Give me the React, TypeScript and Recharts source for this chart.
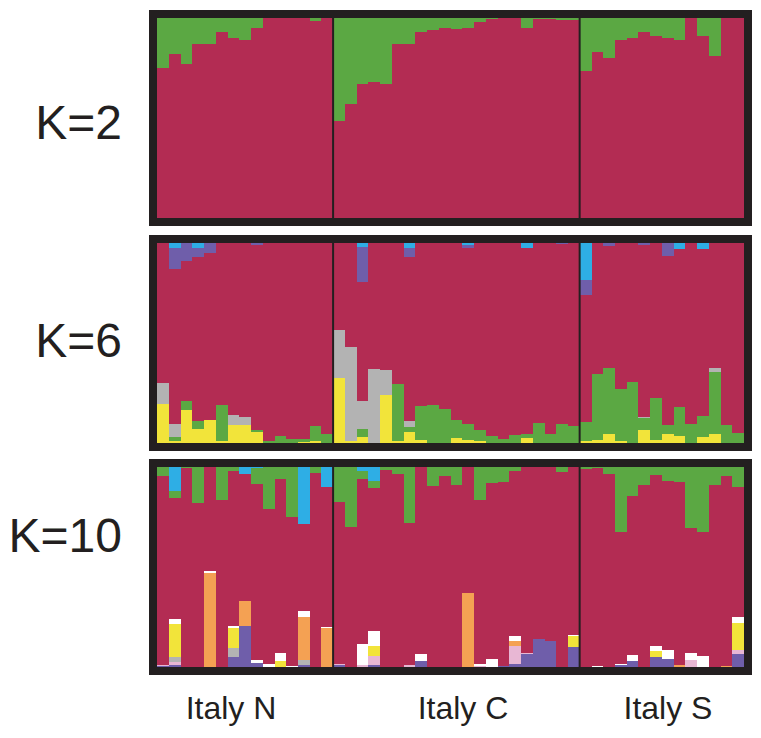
import React from 'react';
import { BarChart, Bar, XAxis, YAxis, ReferenceLine } from 'recharts';

// ---- categories ----
const groupNames = ['Italy N', 'Italy C', 'Italy S'];
const groupSizes = [15, 21, 14];
const panelLabels = ['K=2', 'K=6', 'K=10'];

// ---- K=2 (membership of the green cluster; red is the remainder) ----
const k2Green = [
  0.25, 0.18, 0.23, 0.13, 0.13, 0.07, 0.10, 0.11, 0.05, 0, 0, 0, 0, 0.015, 0,
  0.515, 0.43, 0.33, 0.32, 0.33, 0.13, 0.13, 0.07, 0.06, 0.05, 0.055, 0.05, 0.02, 0.005, 0, 0, 0.05, 0.005, 0.005, 0.01, 0.01,
  0.265, 0.17, 0.2, 0.11, 0.1, 0.07, 0.09, 0.10, 0.11, 0, 0.09, 0.19, 0, 0,
];

// ---- K=6 ----
const k6Yellow = [
  0.197, 0.01, 0.163, 0.072, 0.113, 0.01, 0.088, 0.088, 0.055, 0, 0, 0, 0.005, 0.01, 0,
  0.325, 0.01, 0.03, 0, 0.242, 0.01, 0.055, 0.013, 0, 0, 0.027, 0.017, 0.008, 0, 0, 0, 0.027, 0, 0, 0, 0,
  0.01, 0.017, 0.043, 0.01, 0, 0.063, 0.017, 0.043, 0.033, 0, 0.03, 0.043, 0, 0,
];
const k6Green = [
  0, 0.02, 0.045, 0.037, 0, 0.18, 0, 0, 0.012, 0.01, 0.033, 0.02, 0.015, 0.075, 0.043,
  0, 0, 0.042, 0, 0, 0.287, 0.025, 0.17, 0.19, 0.168, 0.087, 0.077, 0.055, 0.033, 0.022, 0.04, 0.017, 0.1, 0.047, 0.093, 0.083,
  0.095, 0.327, 0.332, 0.258, 0.305, 0.063, 0.21, 0.045, 0.147, 0.093, 0.103, 0.312, 0.088, 0.05,
];
const k6Grey = [
  0.103, 0.067, 0, 0, 0, 0, 0.05, 0.042, 0, 0, 0, 0, 0, 0, 0,
  0.242, 0.47, 0.138, 0.368, 0.122, 0, 0.028, 0, 0, 0, 0, 0, 0, 0, 0, 0, 0, 0, 0, 0, 0,
  0, 0, 0, 0, 0, 0.004, 0, 0, 0, 0, 0, 0.02, 0, 0,
];
const k6Purple = [
  0, 0.105, 0.09, 0.047, 0.05, 0, 0, 0, 0.008, 0, 0, 0, 0, 0, 0,
  0, 0, 0.175, 0, 0, 0, 0.047, 0, 0, 0, 0, 0.015, 0, 0, 0, 0, 0, 0, 0, 0.006, 0,
  0.072, 0, 0.015, 0, 0, 0.008, 0, 0.065, 0, 0, 0, 0, 0, 0,
];
const k6Blue = [
  0, 0.023, 0, 0.023, 0, 0, 0, 0, 0, 0, 0, 0, 0, 0, 0,
  0, 0, 0.02, 0, 0, 0, 0.023, 0, 0, 0, 0, 0.008, 0, 0, 0, 0, 0.023, 0, 0, 0, 0,
  0.187, 0, 0, 0, 0, 0, 0, 0, 0.028, 0, 0.028, 0, 0, 0,
];

// ---- K=10 ----
const k10Blue = [
  0, 0.118, 0, 0, 0, 0, 0, 0.035, 0.005, 0, 0, 0, 0.285, 0, 0.1,
  0, 0, 0.018, 0.068, 0, 0, 0, 0, 0, 0, 0, 0, 0, 0, 0, 0, 0, 0, 0, 0, 0,
  0, 0, 0, 0, 0, 0, 0, 0, 0, 0, 0, 0, 0, 0,
];
const k10Green = [
  0.047, 0.038, 0.005, 0.18, 0, 0.163, 0.018, 0, 0.08, 0.21, 0.06, 0.25, 0, 0.03, 0,
  0.173, 0.3, 0.04, 0.038, 0.013, 0.035, 0.28, 0, 0.093, 0.043, 0.088, 0, 0.165, 0.08, 0.077, 0.018, 0, 0, 0, 0.027, 0,
  0.01, 0.007, 0.035, 0.323, 0.143, 0.088, 0.038, 0.072, 0.077, 0.305, 0.326, 0.088, 0.047, 0.1,
];
const k10Purple = [
  0.005, 0.008, 0, 0, 0, 0, 0.05, 0.205, 0.02, 0, 0, 0, 0.008, 0, 0,
  0.008, 0, 0, 0.008, 0, 0, 0, 0.03, 0, 0, 0, 0, 0, 0, 0.005, 0.017, 0.067, 0.138, 0.128, 0, 0.1,
  0, 0, 0, 0.008, 0.03, 0, 0.052, 0.042, 0, 0, 0, 0, 0, 0.063,
];
const k10Pink = [
  0.005, 0.017, 0, 0, 0, 0, 0, 0, 0, 0, 0, 0, 0, 0, 0,
  0.006, 0, 0.008, 0.045, 0, 0, 0.012, 0, 0, 0, 0, 0, 0.005, 0, 0, 0.087, 0.005, 0, 0, 0, 0,
  0, 0, 0, 0, 0, 0, 0, 0, 0, 0.033, 0, 0, 0, 0.02,
];
const k10Grey = [
  0, 0.025, 0, 0, 0, 0, 0.047, 0, 0, 0, 0, 0, 0.025, 0, 0,
  0, 0, 0, 0, 0, 0, 0, 0, 0, 0, 0, 0, 0, 0, 0, 0, 0, 0, 0, 0, 0,
  0, 0, 0, 0, 0, 0, 0, 0, 0, 0, 0, 0, 0, 0,
];
const k10Yellow = [
  0, 0.166, 0, 0, 0, 0, 0.1, 0, 0, 0, 0.03, 0, 0, 0, 0,
  0, 0, 0, 0.05, 0, 0, 0, 0, 0, 0, 0, 0, 0, 0, 0, 0, 0, 0, 0, 0, 0.053,
  0, 0, 0, 0, 0, 0, 0.028, 0, 0, 0, 0, 0, 0, 0.136,
];
const k10Orange = [
  0, 0, 0, 0, 0.47, 0, 0, 0.125, 0, 0, 0, 0, 0.216, 0, 0.195,
  0, 0, 0, 0, 0, 0, 0, 0, 0, 0, 0, 0.37, 0, 0, 0, 0.027, 0, 0, 0, 0, 0,
  0, 0, 0, 0, 0, 0, 0, 0, 0.01, 0, 0, 0, 0.004, 0,
];
const k10White = [
  0, 0.022, 0, 0, 0.008, 0, 0.008, 0, 0.013, 0.013, 0.04, 0.006, 0.033, 0, 0.005,
  0, 0, 0.105, 0.075, 0, 0, 0, 0.033, 0, 0, 0, 0, 0.01, 0.038, 0, 0.025, 0, 0, 0, 0, 0.008,
  0, 0.007, 0, 0.008, 0.03, 0, 0.025, 0.042, 0, 0.035, 0.057, 0, 0, 0.033,
];

// ---- colours ----
const C = {
  red: '#B32C53',
  green: '#5BA843',
  blue: '#2EAEE5',
  purple: '#6F5EAA',
  grey: '#B3B3B3',
  yellow: '#F2E43A',
  orange: '#F4A153',
  pink: '#E8B7D4',
  white: '#FFFFFF',
  frame: '#231F20',
};

const individuals: { id: string; group: string }[] = [];
groupNames.forEach((g, gi) => {
  for (let i = 0; i < groupSizes[gi]; i++) individuals.push({ id: `${g}-${i + 1}`, group: g });
});
const boundaryIds = [individuals[groupSizes[0]].id, individuals[groupSizes[0] + groupSizes[1]].id];

type Layer = { key: string; values: number[] | null; color: string };

function buildData(layers: Layer[]) {
  return individuals.map((ind, i) => {
    const row: Record<string, any> = { id: ind.id };
    let sum = 0;
    layers.forEach((l) => {
      if (l.values) {
        row[l.key] = l.values[i];
        sum += l.values[i];
      }
    });
    row.red = Math.max(0, 1 - sum);
    return row;
  });
}

const panels: Layer[][] = [
  [
    { key: 'red', values: null, color: C.red },
    { key: 'green', values: k2Green, color: C.green },
  ],
  [
    { key: 'yellow', values: k6Yellow, color: C.yellow },
    { key: 'green', values: k6Green, color: C.green },
    { key: 'grey', values: k6Grey, color: C.grey },
    { key: 'red', values: null, color: C.red },
    { key: 'purple', values: k6Purple, color: C.purple },
    { key: 'blue', values: k6Blue, color: C.blue },
  ],
  [
    { key: 'purple', values: k10Purple, color: C.purple },
    { key: 'pink', values: k10Pink, color: C.pink },
    { key: 'grey', values: k10Grey, color: C.grey },
    { key: 'yellow', values: k10Yellow, color: C.yellow },
    { key: 'orange', values: k10Orange, color: C.orange },
    { key: 'white', values: k10White, color: C.white },
    { key: 'red', values: null, color: C.red },
    { key: 'green', values: k10Green, color: C.green },
    { key: 'blue', values: k10Blue, color: C.blue },
  ],
];

const panelTops = [2, 227, 451];
const INNER_W = 587;
const INNER_H = 200;
const BORDER = 8;
const BAND = INNER_W / individuals.length;
const font = '"Liberation Sans", Arial, Helvetica, sans-serif';

// Fill the full category band so adjacent individuals touch without seams.
function BandRect(props: any) {
  const { x, y, width, height, fill } = props;
  if (!height || height <= 0) return null;
  const cx = x + width / 2;
  return (
    <rect
      x={cx - BAND / 2}
      y={y}
      width={BAND}
      height={height}
      fill={fill}
      shapeRendering="crispEdges"
    />
  );
}

function Panel({ layers, top }: { layers: Layer[]; top: number }) {
  const data = buildData(layers);
  return (
    <div
      style={{
        position: 'absolute',
        left: 141,
        top,
        width: INNER_W,
        height: INNER_H,
        border: `${BORDER}px solid ${C.frame}`,
        background: C.red,
      }}
    >
      <BarChart
        width={INNER_W}
        height={INNER_H}
        data={data}
        margin={{ top: 0, right: 0, bottom: 0, left: 0 }}
        barCategoryGap={0}
        barGap={0}
      >
        <XAxis dataKey="id" type="category" hide />
        <YAxis type="number" domain={[0, 1]} hide allowDataOverflow />
        {layers.map((l) => (
          <Bar
            key={l.key}
            dataKey={l.key}
            stackId="s"
            fill={l.color}
            shape={BandRect}
            isAnimationActive={false}
          />
        ))}
        {boundaryIds.map((b) => (
          <ReferenceLine key={b} x={b} position="start" stroke={C.frame} strokeWidth={2} ifOverflow="visible" />
        ))}
      </BarChart>
    </div>
  );
}

export default function App() {
  const kBaselines = [131, 349, 544];
  const groupLabelX = [223, 455, 660];
  return (
    <div style={{ position: 'relative', width: 745, height: 730, background: '#fff' }}>
      {panels.map((layers, i) => (
        <Panel key={i} layers={layers} top={panelTops[i]} />
      ))}
      <svg
        width={745}
        height={730}
        style={{ position: 'absolute', left: 0, top: 0, pointerEvents: 'none' }}
      >
        {panelLabels.map((t, i) => (
          <text key={t} x={114} y={kBaselines[i]} textAnchor="end" fontFamily={font} fontSize={48} fill={C.frame}>
            {t}
          </text>
        ))}
        {groupNames.map((g, i) => (
          <text key={g} x={groupLabelX[i]} y={711} textAnchor="middle" fontFamily={font} fontSize={32} fill={C.frame}>
            {g}
          </text>
        ))}
      </svg>
    </div>
  );
}
